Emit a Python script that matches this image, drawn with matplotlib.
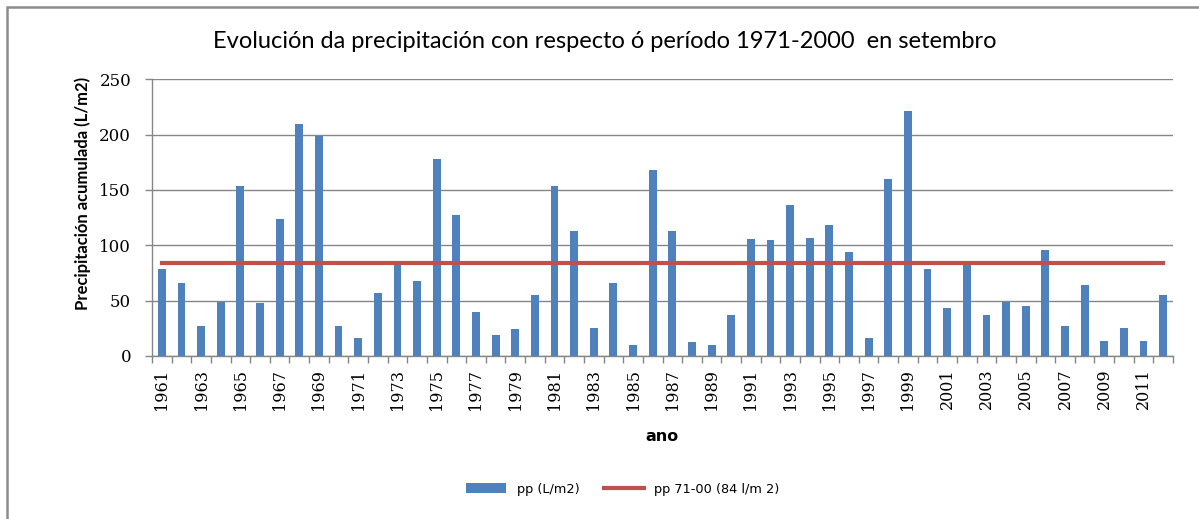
import matplotlib
matplotlib.use("Agg")
import matplotlib.pyplot as plt
from matplotlib.patches import Rectangle
from matplotlib.ticker import FixedLocator

# Datos: precipitación acumulada en setembro (L/m2)
anos = list(range(1961, 2013))
pp = [79, 66, 27, 49, 154, 48, 124, 210, 199, 27,
      16, 57, 83, 68, 178, 127, 40, 19, 24, 55,
      154, 113, 25, 66, 10, 168, 113, 13, 10, 37,
      106, 105, 136, 107, 118, 94, 16, 160, 221, 79,
      43, 83, 37, 49, 45, 96, 27, 64, 14, 25,
      14, 55]
media_71_00 = 84

titulo = "Evolución da precipitación con respecto ó período 1971-2000  en setembro"
ylabel = "Precipitación acumulada (L/m2)"
xlabel = "ano"
leg_barras = "pp (L/m2)"
leg_linea = "pp 71-00 (84 l/m 2)"

azul = "#4F81BD"
vermello = "#C0504D"
gris = "#868686"

W, H = 1199, 519
fig = plt.figure(figsize=(W / 100, H / 100), dpi=100)
ax = fig.add_axes([152 / W, 1 - 356 / H, (1173 - 152) / W, (356 - 79.3) / H])

# borde exterior do gráfico (só se ven os lados superior e esquerdo)
fig.patches.append(Rectangle((7 / W, -0.2), 1.2, 1.2 - 6.5 / H, transform=fig.transFigure,
                             fill=False, edgecolor="#8c8c8c", linewidth=1.8))

x = list(range(len(anos)))
barras = ax.bar(x, pp, width=0.4, color=azul, zorder=3, label=leg_barras)
linea, = ax.plot([x[0], x[-1]], [media_71_00] * 2, color=vermello, linewidth=3,
                 zorder=4, label=leg_linea)

ax.set_xlim(-0.5, len(anos) - 0.5)
ax.set_ylim(0, 250)
ax.set_yticks(range(0, 251, 50))
ax.yaxis.grid(True, color=gris, linewidth=1)
ax.set_axisbelow(True)

for s in ["top", "right"]:
    ax.spines[s].set_visible(False)
for s in ["left", "bottom"]:
    ax.spines[s].set_color(gris)
    ax.spines[s].set_linewidth(1)

tick_font = dict(family="DejaVu Serif", size=11.5)
ax.set_xticks(x[::2])
ax.set_xticklabels([str(a) for a in anos[::2]], rotation=90, **tick_font)
ax.tick_params(axis="x", which="major", length=0, pad=9)
ax.xaxis.set_minor_locator(FixedLocator([i - 0.5 for i in range(len(anos) + 1)]))
ax.tick_params(axis="x", which="minor", length=5, color=gris, width=1)
ax.tick_params(axis="y", length=5, color=gris, width=1, pad=10)
for lab in ax.get_yticklabels():
    lab.set_fontfamily("DejaVu Serif")
    lab.set_fontsize(12)

ax.set_ylabel(ylabel, fontsize=12, fontweight="bold", family=["Lato", "DejaVu Sans"])
ax.yaxis.set_label_coords(-0.06, 0.587)
ax.set_xlabel(xlabel, fontsize=11.5, fontweight="bold", family="DejaVu Sans",
              labelpad=14)

fig.text(605 / W, 1 - 42 / H, titulo, ha="center", va="center", fontsize=17,
         family=["Lato", "DejaVu Sans"])

fig.legend(handles=[barras, linea], loc="center", bbox_to_anchor=(623 / W, 1 - 489 / H),
           ncol=2, frameon=False, handlelength=3.1, columnspacing=1.9,
           prop=dict(family="DejaVu Sans", size=9.3))

fig.savefig("out.png", dpi=100)
